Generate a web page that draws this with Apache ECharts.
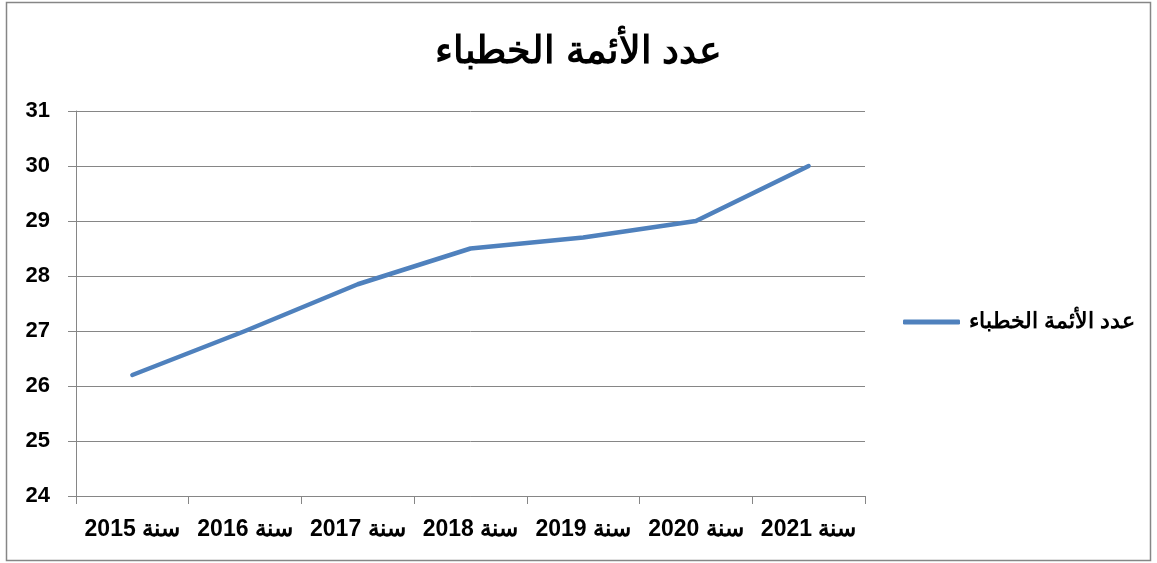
<!DOCTYPE html>
<html>
<head>
<meta charset="utf-8">
<script src="https://cdn.jsdelivr.net/npm/echarts@6/dist/echarts.min.js"></script>
<style>
	html,body{margin:0;padding:0;background:#fff;}
	#chart_box{width:1157px;height:563px;}
</style>
</head>
<body>
<div id="chart_box"></div>
<script>
	// 数据
	var title_text = 'عدد الأئمة الخطباء';
	var series_name = 'عدد الأئمة الخطباء';
	var year_list = ['سنة 2015','سنة 2016','سنة 2017','سنة 2018','سنة 2019','سنة 2020','سنة 2021'];
	var value_list = [26.2, 27.0, 27.85, 28.5, 28.7, 29.0, 30.0];
	var y_min = 24;
	var y_max = 31;

	var chart = echarts.init(document.getElementById('chart_box'));
	var grey = '#868686';
	var font = '"Liberation Sans", Arial, sans-serif';
	chart.setOption({
		animation:false,
		// 外框
		graphic:[{
			type:'rect',
			shape:{x:6.5,y:2.5,width:1144,height:558},
			style:{fill:'none',stroke:grey,lineWidth:1.5},
			silent:true
		}],
		title:{
			text:title_text,
			left:'center',
			top:29,
			textStyle:{fontSize:38,fontWeight:'bold',color:'#000',fontFamily:font}
		},
		legend:{
			left:898,
			top:306,
			bottom:'auto',
			right:'auto',
			orient:'vertical',
			itemWidth:57,
			itemHeight:5,
			itemGap:10,
			icon:'roundRect',
			itemStyle:{color:'#4F81BD'},
			textStyle:{fontSize:22,fontWeight:'bold',color:'#000',fontFamily:font,padding:[0,0,0,4]},
			data:[series_name]
		},
		grid:{left:76,right:292,top:111,bottom:67},
		xAxis:{
			type:'category',
			data:year_list,
			boundaryGap:true,
			axisLine:{lineStyle:{color:grey,width:1}},
			axisTick:{show:true,length:8,lineStyle:{color:grey},alignWithLabel:false},
			axisLabel:{interval:0,margin:22,fontSize:23,fontWeight:'bold',color:'#000',fontFamily:font}
		},
		yAxis:{
			type:'value',
			min:y_min,
			max:y_max,
			interval:1,
			axisLine:{show:true,lineStyle:{color:grey,width:1}},
			axisTick:{show:true,length:8,lineStyle:{color:grey}},
			axisLabel:{margin:26,fontSize:22,fontWeight:'bold',color:'#000',fontFamily:font},
			splitLine:{lineStyle:{color:grey,width:1}}
		},
		series:[{
			name:series_name,
			type:'line',
			data:value_list,
			showSymbol:false,
			symbol:'none',
			color:'#4F81BD',
			lineStyle:{width:4.5,color:'#4F81BD',cap:'round',join:'round'}
		}]
	});
</script>
</body>
</html>
